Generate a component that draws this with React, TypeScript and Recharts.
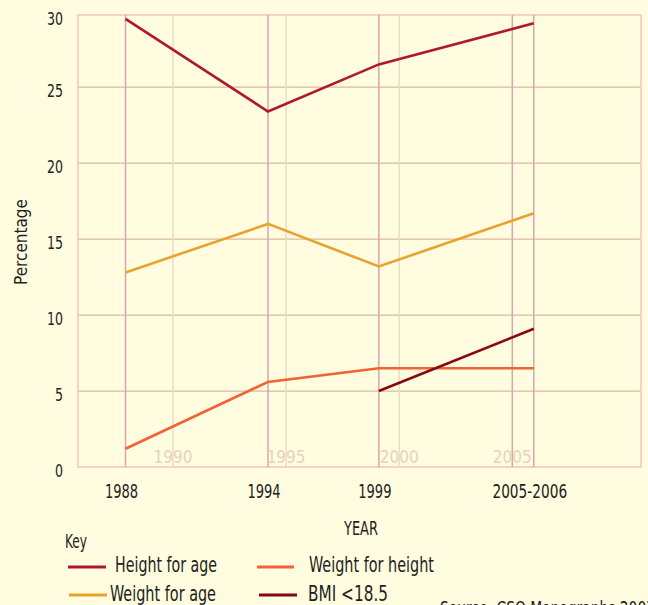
import { LineChart, Line, XAxis, YAxis, CartesianGrid, ReferenceLine, ReferenceArea } from "recharts"

const FONT = '"Liberation Sans Narrow", "DejaVu Sans Condensed", Roboto, sans-serif'
const INK = "#231f20"
const BG = "#fffce0"
const MAUVE = "#d9a5ad"
const GUIDE = "#ecdcc4"
const GRID = "#d9bb9c"
const FRAME = "#f6c5b4"

// survey periods and where each sits on the year scale
const periods = ["1988", "1994", "1999", "2005-2006"]
const periodPos = [1987.9, 1994.2, 1999.1, 2005.95]

// % of children
const heightForAge = [29.5, 23.4, 26.5, 29.2]
const weightForAge = [12.8, 16.0, 13.2, 16.7]
const weightForHeight = [1.2, 5.6, 6.5, 6.5]
const bmiUnder185 = [null, null, 5.0, 9.1]

const guideYears = [1990, 1995, 2000, 2005]
const yTicks = [0, 5, 10, 15, 20, 25, 29.75]
const gridValues = [5, 10, 15, 20, 25]

const series = [
  { key: "heightForAge", label: "Height for age", color: "#b0192c" },
  { key: "weightForAge", label: "Weight for age", color: "#e9a22d" },
  { key: "weightForHeight", label: "Weight for height", color: "#f26233" },
  { key: "bmi", label: "BMI <18.5", color: "#870812" },
]

const data = periods.map((p, i) => ({
  period: p,
  pos: periodPos[i],
  heightForAge: heightForAge[i],
  weightForAge: weightForAge[i],
  weightForHeight: weightForHeight[i],
  bmi: bmiUnder185[i],
}))

function YTick({ x, y, payload }: any) {
  const s = String(Math.round(payload.value))
  return (
    <text
      x={x}
      y={y + 5}
      textAnchor="end"
      dominantBaseline="middle"
      fontFamily={FONT}
      fontSize={18}
      fill={INK}
      textLength={s.length * 8}
      lengthAdjust="spacingAndGlyphs"
    >
      {s}
    </text>
  )
}

function XTick({ x, y, payload }: any) {
  const s = periods[periodPos.indexOf(payload.value)]
  return (
    <text
      x={x - 4}
      y={y + 25}
      textAnchor="middle"
      dominantBaseline="middle"
      fontFamily={FONT}
      fontSize={19}
      fill={INK}
      textLength={s.length * 8.3}
      lengthAdjust="spacingAndGlyphs"
    >
      {s}
    </text>
  )
}

function Overlay() {
  const t = { fontFamily: FONT, fill: INK, lengthAdjust: "spacingAndGlyphs" as const }
  return (
    <svg width={648} height={605} style={{ position: "absolute", left: 0, top: 0, pointerEvents: "none" }}>
      <text {...t} x={22} y={242} fontSize={17} textAnchor="middle" dominantBaseline="middle" transform="rotate(-90 22 242)">
        Percentage
      </text>
      <text {...t} x={344} y={535} fontSize={20} textLength={34}>YEAR</text>
      <text {...t} x={65} y={548} fontSize={20} textLength={22}>Key</text>

      <line x1={68} x2={106} y1={567} y2={567} stroke={series[0].color} strokeWidth={3} />
      <text {...t} x={115} y={572} fontSize={22} textLength={102}>Height for age</text>
      <line x1={69} x2={107} y1={595} y2={595} stroke={series[1].color} strokeWidth={3} />
      <text {...t} x={110} y={601} fontSize={22} textLength={106}>Weight for age</text>

      <line x1={257} x2={294} y1={567} y2={567} stroke={series[2].color} strokeWidth={3} />
      <text {...t} x={309} y={572} fontSize={22} textLength={125}>Weight for height</text>
      <line x1={259} x2={297} y1={595} y2={595} stroke={series[3].color} strokeWidth={3} />
      <text {...t} x={308} y={601} fontSize={22} textLength={80}>BMI &lt;18.5</text>

      <text {...t} x={440} y={615} fontSize={20} textLength={215}>Source: CSO Monographs 2007</text>
    </svg>
  )
}

export default function App() {
  return (
    <div style={{ position: "fixed", left: 0, top: 0, width: 648, height: 605, background: BG, overflow: "hidden" }}>
      <LineChart width={648} height={605} data={data} margin={{ top: 15, right: 7, bottom: 108, left: 0 }}>
        <CartesianGrid stroke={GRID} strokeWidth={1.2} vertical={false} horizontalValues={gridValues} />
        <XAxis
          type="number"
          dataKey="pos"
          domain={[1985.8, 2010.69]}
          ticks={periodPos}
          tick={<XTick />}
          tickSize={0}
          tickMargin={0}
          axisLine={false}
          tickLine={false}
          height={30}
          allowDataOverflow
        />
        <YAxis
          type="number"
          domain={[0, 29.75]}
          ticks={yTicks}
          tick={<YTick />}
          tickSize={0}
          tickMargin={15}
          axisLine={false}
          tickLine={false}
          width={78}
          allowDataOverflow
        />
        <ReferenceArea x1={1985.8} x2={2010.69} y1={0} y2={29.75} fill="none" stroke={FRAME} strokeWidth={1.5} />
        {guideYears.map((yr) => (
          <ReferenceLine
            key={yr}
            x={yr}
            stroke={yr === 2005 ? MAUVE : GUIDE}
            strokeWidth={1.5}
            label={{ value: String(yr), position: "insideBottom", offset: 4, fill: "#e6d3bd", fontSize: 17, fontFamily: FONT }}
          />
        ))}
        {periodPos.map((p) => (
          <ReferenceLine key={p} x={p} stroke={MAUVE} strokeWidth={1.5} />
        ))}
        {series.map((s) => (
          <Line
            key={s.key}
            dataKey={s.key}
            stroke={s.color}
            strokeWidth={2.6}
            dot={false}
            activeDot={false}
            isAnimationActive={false}
          />
        ))}
      </LineChart>
      <Overlay />
    </div>
  )
}
